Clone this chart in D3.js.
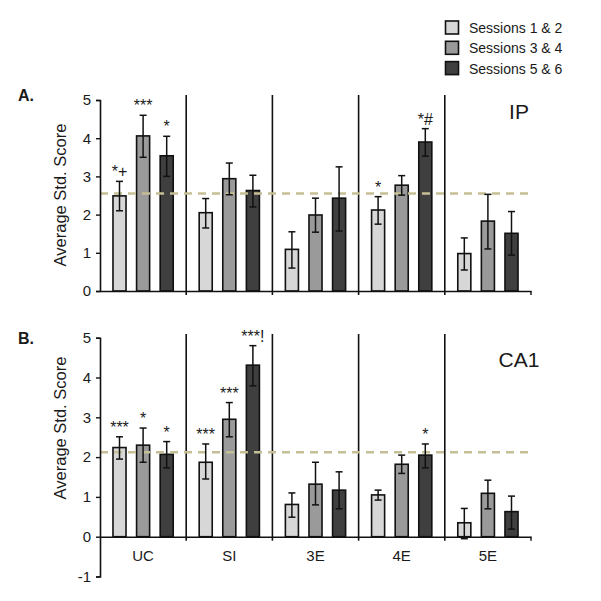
<!DOCTYPE html>
<html><head><meta charset="utf-8">
<script src="https://cdn.jsdelivr.net/npm/d3@7"></script>
<style>body{margin:0;background:#fff}svg{display:block}text{font-family:"Liberation Sans",Arial,sans-serif;fill:#1a1a1a}</style>
</head><body><svg id="c" width="601" height="601"></svg>
<script>
const categories = ["UC","SI","3E","4E","5E"];
const series = ["Sessions 1 & 2","Sessions 3 & 4","Sessions 5 & 6"];
const colors = ["#d7d7d7","#9a9a9a","#3f3f3f"];
// Panel A (IP): means, error low, error high per category [s12, s34, s56]
const ipMean = [[2.49,4.06,3.54],[2.05,2.94,2.63],[1.09,1.99,2.43],[2.12,2.77,3.90],[0.98,1.83,1.51]];
const ipLow  = [[2.10,3.50,3.00],[1.65,2.52,2.20],[0.60,1.54,1.57],[1.75,2.51,3.53],[0.55,1.10,0.94]];
const ipHigh = [[2.87,4.60,4.05],[2.42,3.35,3.03],[1.55,2.43,3.25],[2.47,3.02,4.25],[1.39,2.53,2.08]];
const ipSig  = [["*+","***","*"],["","",""],["","",""],["*","","*#"],["","",""]];
const ipRef = 2.55;
// Panel B (CA1)
const caMean = [[2.24,2.30,2.07],[1.87,2.95,4.31],[0.81,1.32,1.17],[1.05,1.82,2.05],[0.35,1.09,0.63]];
const caLow  = [[1.95,1.87,1.73],[1.45,2.51,3.79],[0.49,0.80,0.70],[0.92,1.59,1.73],[-0.05,0.70,0.19]];
const caHigh = [[2.51,2.73,2.39],[2.33,3.37,4.80],[1.10,1.87,1.63],[1.17,2.05,2.33],[0.71,1.42,1.02]];
const caSig  = [["***","*","*"],["***","***","***!"],["","",""],["","","*"],["","",""]];
const caRef = 2.12;
const yTicksA = [0,1,2,3,4,5];
const yTicksB = [-1,0,1,2,3,4,5];

const svg = d3.select("#c");
const x = d3.scaleBand().domain(categories).range([100,531]).padding(0);
const xs = d3.scaleBand().domain(series).range([0,x.bandwidth()]).paddingInner(0.447).paddingOuter(0.55);

function panel(opt){
  const g = svg.append("g");
  const y = d3.scaleLinear().domain(opt.domain).range(opt.range);
  categories.forEach(c=>{
    const xx = x(c)+x.bandwidth();
    if (c!==categories[categories.length-1])
      g.append("line").attr("x1",xx).attr("x2",xx).attr("y1",opt.sepTop).attr("y2",y(0)+4).attr("stroke","#111").attr("stroke-width",1.6);
    else
      g.append("line").attr("x1",xx).attr("x2",xx).attr("y1",y(0)).attr("y2",y(0)+4).attr("stroke","#111").attr("stroke-width",1.4);
  });
  categories.forEach((c,i)=>{
    series.forEach((s,j)=>{
      const v = opt.mean[i][j];
      const bx = x(c)+xs(s);
      g.append("rect").attr("x",bx).attr("width",xs.bandwidth())
        .attr("y",y(Math.max(v,0))).attr("height",Math.abs(y(v)-y(0)))
        .attr("fill",colors[j]).attr("stroke","#111").attr("stroke-width",1.6);
    });
  });
  g.append("line").attr("x1",100).attr("x2",531).attr("y1",y(opt.ref)).attr("y2",y(opt.ref))
    .attr("stroke","#c4bf94").attr("stroke-width",2.5).attr("stroke-dasharray","8,6");
  categories.forEach((c,i)=>{
    series.forEach((s,j)=>{
      const cx = x(c)+xs(s)+xs.bandwidth()/2;
      const lo = y(opt.low[i][j]), hi = y(opt.high[i][j]);
      g.append("line").attr("x1",cx).attr("x2",cx).attr("y1",lo).attr("y2",hi).attr("stroke","#111").attr("stroke-width",1.5);
      [lo,hi].forEach(yy=>g.append("line").attr("x1",cx-3.5).attr("x2",cx+3.5).attr("y1",yy).attr("y2",yy).attr("stroke","#111").attr("stroke-width",1.5));
      const t = opt.sig[i][j];
      if (t) g.append("text").attr("x",cx).attr("y",hi-4).attr("text-anchor","middle").attr("font-size",16).text(t);
    });
  });
  const ya = g.append("g").attr("transform","translate(100,0)")
    .call(d3.axisLeft(y).tickValues(opt.ticks).tickFormat(d=>String(d)).tickSize(4).tickPadding(5));
  ya.select(".domain").attr("stroke","#111").attr("stroke-width",1.6);
  ya.selectAll(".tick line").attr("stroke","#111").attr("stroke-width",1.4);
  ya.selectAll(".tick text").attr("font-size",15).attr("fill","#1a1a1a").style("font-family","Liberation Sans, Arial, sans-serif");
  const xa = g.append("g").attr("transform",`translate(0,${y(0)})`)
    .call(d3.axisBottom(x).tickSize(0).tickPadding(opt.showCats?14:0).tickFormat(opt.showCats?(d=>d):(()=>"")));
  xa.select(".domain").attr("stroke","#111").attr("stroke-width",1.6);
  xa.selectAll(".tick text").attr("font-size",15).attr("fill","#1a1a1a").style("font-family","Liberation Sans, Arial, sans-serif");
  g.append("text").attr("transform",`translate(66,${opt.titleY}) rotate(-90)`).attr("text-anchor","middle").attr("font-size",16.5).text("Average Std. Score");
  g.append("text").attr("x",18).attr("y",opt.letterY).attr("font-size",16).attr("font-weight","bold").text(opt.letter);
  g.append("text").attr("x",519).attr("y",opt.nameY).attr("text-anchor","middle").attr("font-size",21).text(opt.name);
}

panel({domain:[0,5],range:[291,100],sepTop:95,mean:ipMean,low:ipLow,high:ipHigh,sig:ipSig,ref:ipRef,ticks:yTicksA,
  showCats:false,titleY:195,letter:"A.",letterY:101,name:"IP",nameY:119});
panel({domain:[-1,5],range:[576.5,337.7],sepTop:334,mean:caMean,low:caLow,high:caHigh,sig:caSig,ref:caRef,ticks:yTicksB,
  showCats:true,titleY:428,letter:"B.",letterY:344,name:"CA1",nameY:367});

const lg = svg.append("g");
series.forEach((s,j)=>{
  lg.append("rect").attr("x",445.5).attr("y",21+j*20.3).attr("width",13).attr("height",13).attr("fill",colors[j]).attr("stroke","#111").attr("stroke-width",1.6);
  lg.append("text").attr("x",469).attr("y",33+j*20.3).attr("font-size",14).text(s);
});
</script></body></html>
